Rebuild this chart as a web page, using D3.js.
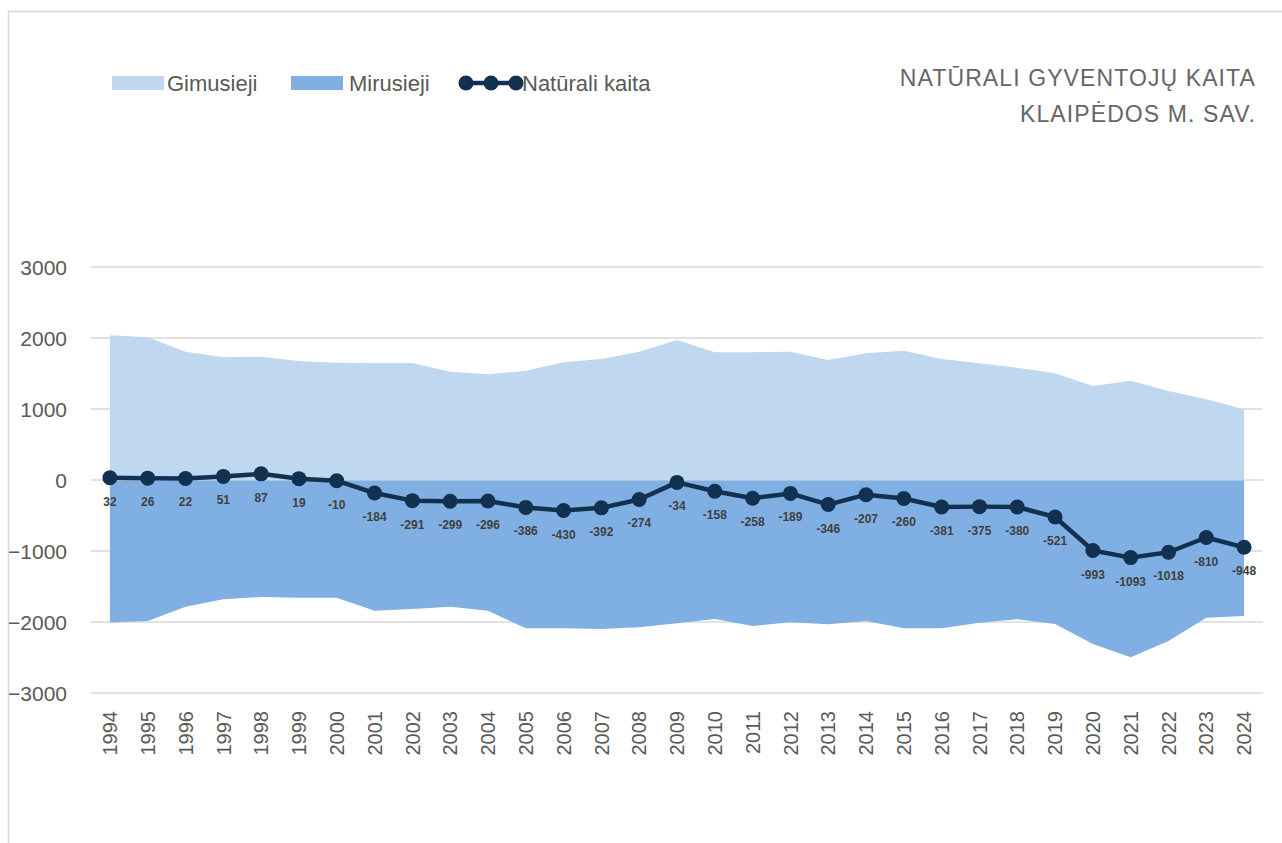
<!DOCTYPE html>
<html>
<head>
<meta charset="utf-8">
<script src="https://cdn.jsdelivr.net/npm/d3@7"></script>
<style>
  html, body { margin: 0; padding: 0; background: #ffffff; }
  svg { display: block; }
</style>
</head>
<body>
<svg id="chart" width="1282" height="843"></svg>
<script>
// Klaipėdos m. sav. – gimusieji, mirusieji ir natūrali kaita, 1994–2024
const years = [1994, 1995, 1996, 1997, 1998, 1999, 2000, 2001, 2002, 2003, 2004,
  2005, 2006, 2007, 2008, 2009, 2010, 2011, 2012, 2013, 2014, 2015, 2016, 2017,
  2018, 2019, 2020, 2021, 2022, 2023, 2024];

const gimusieji = [2040, 2010, 1807, 1728, 1737, 1676, 1653, 1648, 1648, 1526, 1488,
  1540, 1657, 1704, 1808, 1972, 1798, 1800, 1808, 1690, 1784, 1822, 1704, 1643,
  1582, 1502, 1324, 1399, 1253, 1136, 995];

const mirusieji = [2008, 1986, 1784, 1681, 1648, 1657, 1657, 1840, 1817, 1784, 1840,
  2089, 2089, 2097, 2075, 2019, 1958, 2056, 2005, 2033, 1986, 2089, 2089, 2009,
  1962, 2028, 2310, 2498, 2268, 1939, 1916];

const kaita = [32, 26, 22, 51, 87, 19, -10, -184, -291, -299, -296, -386, -430, -392,
  -274, -34, -158, -258, -189, -346, -207, -260, -381, -375, -380, -521, -993,
  -1093, -1018, -810, -948];

const yTicks = [3000, 2000, 1000, 0, -1000, -2000, -3000];

const legendItems = ["Gimusieji", "Mirusieji", "Natūrali kaita"];
const titleLines = ["NATŪRALI GYVENTOJŲ KAITA", "KLAIPĖDOS M. SAV."];

const colors = {
  births: "#c0d7f0",
  deaths: "#80b0e3",
  line: "#12304f",
  grid: "#d9d9d9",
  text: "#595959",
  label: "#404040"
};

const rows = years.map((y, i) => ({
  year: y, births: gimusieji[i], deaths: -mirusieji[i], change: kaita[i]
}));

const svg = d3.select("#chart");

// outer frame
svg.append("rect")
  .attr("x", 8.5).attr("y", 11.5)
  .attr("width", 1400).attr("height", 900)
  .attr("fill", "none").attr("stroke", colors.grid).attr("stroke-width", 1.5);

const plot = { left: 91, right: 1263, top: 267, bottom: 693 };

const x = d3.scaleBand().domain(years).range([plot.left, plot.right]).padding(0);
const cx = d => x(d) + x.bandwidth() / 2;
const y = d3.scaleLinear().domain([-3000, 3000]).range([plot.bottom, plot.top]);

// horizontal gridlines
svg.append("g").selectAll("line").data(yTicks).join("line")
  .attr("x1", plot.left).attr("x2", plot.right)
  .attr("y1", d => y(d)).attr("y2", d => y(d))
  .attr("stroke", colors.grid).attr("stroke-width", 1.5);

// y axis labels
const yAxis = d3.axisLeft(y).tickValues(yTicks).tickSize(0).tickPadding(0)
  .tickFormat(d3.format("d"));
svg.append("g")
  .attr("transform", `translate(${67},0)`)
  .call(yAxis)
  .call(g => g.select(".domain").remove())
  .call(g => g.selectAll("text")
    .attr("fill", colors.text)
    .attr("font-family", "'Liberation Sans', Arial, sans-serif")
    .attr("font-size", 21)
    .attr("dy", "0.36em"));

// x axis labels (rotated years)
const xAxis = d3.axisBottom(x).tickSize(0).tickPadding(0);
svg.append("g")
  .attr("transform", `translate(0,${711})`)
  .call(xAxis)
  .call(g => g.select(".domain").remove())
  .call(g => g.selectAll("text")
    .attr("fill", colors.text)
    .attr("font-family", "'Liberation Sans', Arial, sans-serif")
    .attr("font-size", 20)
    .attr("text-anchor", "end")
    .attr("transform", "rotate(-90)")
    .attr("x", 0).attr("y", 0)
    .attr("dx", 0).attr("dy", "0.36em"));

// births area (positive)
const areaBirths = d3.area()
  .x(d => cx(d.year)).y0(y(0)).y1(d => y(d.births));
svg.append("path").datum(rows)
  .attr("d", areaBirths).attr("fill", colors.births);

// deaths area (negative)
const areaDeaths = d3.area()
  .x(d => cx(d.year)).y0(y(0)).y1(d => y(d.deaths));
svg.append("path").datum(rows)
  .attr("d", areaDeaths).attr("fill", colors.deaths);

// thin seam at zero
svg.append("line")
  .attr("x1", cx(years[0])).attr("x2", cx(years[years.length - 1]))
  .attr("y1", y(0)).attr("y2", y(0))
  .attr("stroke", "#d4d8de").attr("stroke-width", 1);

// natural change line + markers
const line = d3.line().x(d => cx(d.year)).y(d => y(d.change));
svg.append("path").datum(rows)
  .attr("d", line).attr("fill", "none")
  .attr("stroke", colors.line).attr("stroke-width", 4.5)
  .attr("stroke-linejoin", "round");

svg.append("g").selectAll("circle").data(rows).join("circle")
  .attr("cx", d => cx(d.year)).attr("cy", d => y(d.change))
  .attr("r", 7.5).attr("fill", colors.line);

// value labels under markers
svg.append("g").selectAll("text").data(rows).join("text")
  .attr("x", d => cx(d.year)).attr("y", d => y(d.change) + 28)
  .attr("text-anchor", "middle")
  .attr("font-family", "'Liberation Sans', Arial, sans-serif")
  .attr("font-weight", "bold")
  .attr("font-size", 12)
  .attr("fill", colors.label)
  .text(d => d.change);

// legend
const legend = svg.append("g")
  .attr("font-family", "'Liberation Sans', Arial, sans-serif")
  .attr("font-size", 22).attr("fill", colors.text);

legend.append("rect").attr("x", 112).attr("y", 76).attr("width", 52).attr("height", 14)
  .attr("fill", colors.births);
legend.append("text").attr("x", 167).attr("y", 90.5).text(legendItems[0]);

legend.append("rect").attr("x", 291).attr("y", 76).attr("width", 52).attr("height", 14)
  .attr("fill", colors.deaths);
legend.append("text").attr("x", 349).attr("y", 90.5).text(legendItems[1]);

legend.append("line").attr("x1", 466).attr("x2", 516).attr("y1", 83).attr("y2", 83)
  .attr("stroke", colors.line).attr("stroke-width", 4.5);
legend.selectAll("circle.lg").data([466, 491, 516]).join("circle")
  .attr("class", "lg")
  .attr("cx", d => d).attr("cy", 83).attr("r", 7.5).attr("fill", colors.line);
legend.append("text").attr("x", 522).attr("y", 90.5).text(legendItems[2]);

// title
const title = svg.append("g")
  .attr("font-family", "'Liberation Sans', Arial, sans-serif")
  .attr("font-size", 23)
  .attr("letter-spacing", "1.1px")
  .attr("fill", "#666666")
  .attr("text-anchor", "end");
title.append("text").attr("x", 1256).attr("y", 86).text(titleLines[0]);
title.append("text").attr("x", 1256).attr("y", 122).text(titleLines[1]);
</script>
</body>
</html>
